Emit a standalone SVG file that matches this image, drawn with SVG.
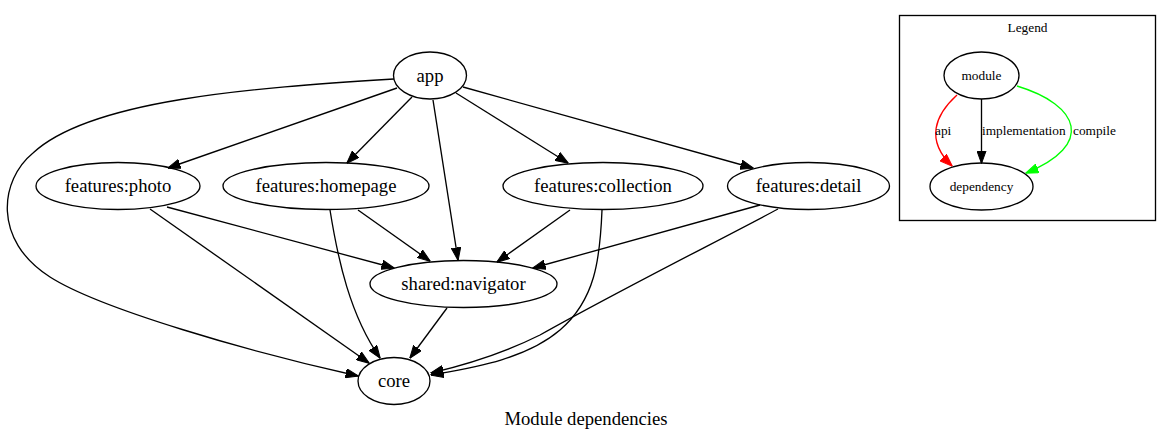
<svg xmlns="http://www.w3.org/2000/svg" width="1171" height="441" viewBox="0 0 1171 441">
<style>
.n ellipse{fill:none;stroke:#000;stroke-width:1.33}
.n text{font-family:"Liberation Serif","Times New Roman",serif;font-size:18.67px;text-anchor:middle;fill:#000}
.lg text{font-family:"Liberation Serif","Times New Roman",serif;font-size:13.33px;fill:#000}
.lg .n text{font-size:13.33px}
.e path{fill:none;stroke:#000;stroke-width:1.33}
.title{font-family:"Liberation Serif","Times New Roman",serif;font-size:18.67px;text-anchor:middle;fill:#000}
</style>
<defs>
<marker id="ab" viewBox="0 0 13 10" refX="12.5" refY="5" markerWidth="13" markerHeight="10" markerUnits="userSpaceOnUse" orient="auto"><path d="M0,0.3 L13,5 L0,9.7 z" fill="#000" stroke="#000" stroke-width="1"/></marker>
<marker id="ar" viewBox="0 0 13 10" refX="12.5" refY="5" markerWidth="13" markerHeight="10" markerUnits="userSpaceOnUse" orient="auto"><path d="M0,0.3 L13,5 L0,9.7 z" fill="#f00" stroke="#f00" stroke-width="1"/></marker>
<marker id="ag" viewBox="0 0 13 10" refX="12.5" refY="5" markerWidth="13" markerHeight="10" markerUnits="userSpaceOnUse" orient="auto"><path d="M0,0.3 L13,5 L0,9.7 z" fill="#0f0" stroke="#0f0" stroke-width="1"/></marker>
</defs>
<rect x="0" y="0" width="1171" height="441" fill="#fff"/>

<g id="edges" class="e">
<path d="M397,88 L168,168" marker-end="url(#ab)"/>
<path d="M412,97 L347,163" marker-end="url(#ab)"/>
<path d="M433,100 L458,260" marker-end="url(#ab)"/>
<path d="M456,93 L568,163" marker-end="url(#ab)"/>
<path d="M463,87 L753,168" marker-end="url(#ab)"/>
<path d="M394,79 C250,88 90,100 33,153 C0,180 -8,240 50,277 C100,309 250,352 358,376" marker-end="url(#ab)"/>
<path d="M167,207 L394,268" marker-end="url(#ab)"/>
<path d="M150,209 L369,363" marker-end="url(#ab)"/>
<path d="M358,210 L430,261" marker-end="url(#ab)"/>
<path d="M330,210 C338,260 350,315 380,358" marker-end="url(#ab)"/>
<path d="M570,210 L497,262" marker-end="url(#ab)"/>
<path d="M602,210 C600,260 595,300 560,330 C525,360 470,368 431,375" marker-end="url(#ab)"/>
<path d="M760,205 L533,268" marker-end="url(#ab)"/>
<path d="M778,209 C720,240 620,290 540,335 C500,355 465,365 431,373" marker-end="url(#ab)"/>
<path d="M447,308 L410,358" marker-end="url(#ab)"/>
</g>

<g id="app" class="n"><ellipse cx="430" cy="75.5" rx="36.5" ry="23.5"/><text x="430" y="81.5">app</text></g>
<g id="features_photo" class="n"><ellipse cx="118" cy="186" rx="82" ry="23.5"/><text x="118" y="192">features:photo</text></g>
<g id="features_homepage" class="n"><ellipse cx="326" cy="186" rx="103" ry="23.5"/><text x="326" y="192">features:homepage</text></g>
<g id="features_collection" class="n"><ellipse cx="603" cy="186" rx="100" ry="23.5"/><text x="603" y="192">features:collection</text></g>
<g id="features_detail" class="n"><ellipse cx="808.5" cy="186" rx="81" ry="23.5"/><text x="808.5" y="192">features:detail</text></g>
<g id="shared_navigator" class="n"><ellipse cx="463.5" cy="284" rx="93.5" ry="23.5"/><text x="463.5" y="290">shared:navigator</text></g>
<g id="core" class="n"><ellipse cx="394" cy="381" rx="36" ry="23.5"/><text x="394" y="387">core</text></g>

<g id="legend" class="lg">
<rect x="899.5" y="15.5" width="256" height="205" fill="none" stroke="#000" stroke-width="1.33"/>
<text x="1027.5" y="32" text-anchor="middle">Legend</text>
<g id="legend_edges" class="e">
<path d="M957,95 C935,115 925,140 952,166" style="stroke:#f00" marker-end="url(#ar)"/>
<path d="M981.5,99 L981.5,163" marker-end="url(#ab)"/>
<path d="M1017,86 C1080,105 1095,145 1026,173" style="stroke:#0f0" marker-end="url(#ag)"/>
</g>
<text x="935" y="135">api</text>
<text x="982" y="135">implementation</text>
<text x="1073" y="135">compile</text>
<g id="legend_module" class="n"><ellipse cx="981.5" cy="75.5" rx="37.5" ry="23.5"/><text x="981.5" y="80">module</text></g>
<g id="legend_dependency" class="n"><ellipse cx="981.5" cy="186.5" rx="51.5" ry="23.5"/><text x="981.5" y="191">dependency</text></g>
</g>

<text class="title" x="586" y="425">Module dependencies</text>
</svg>
